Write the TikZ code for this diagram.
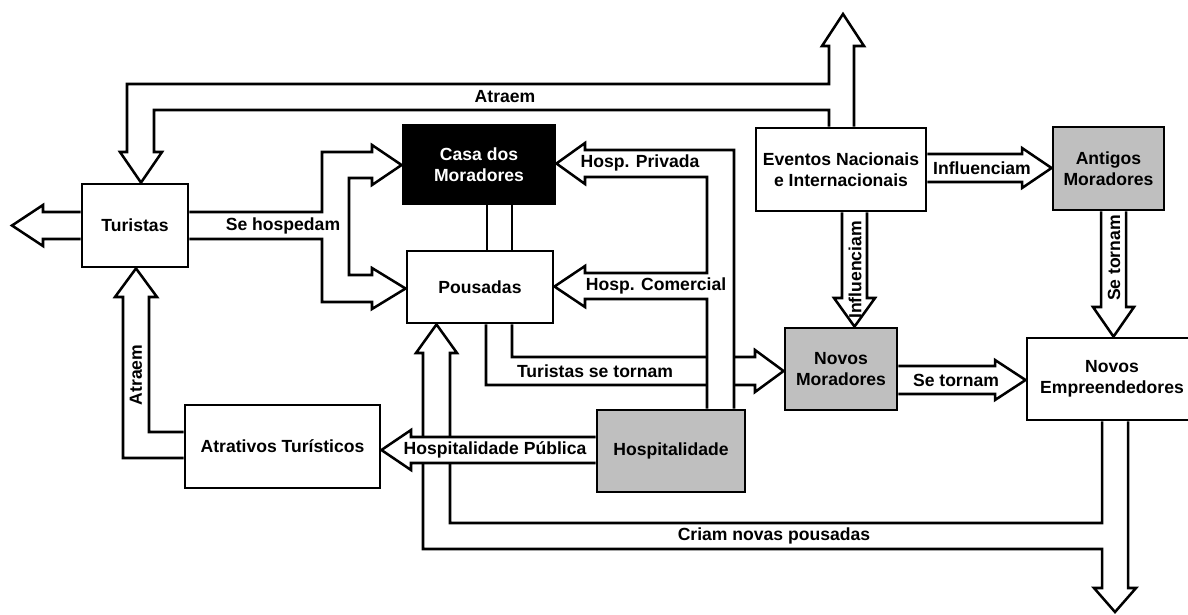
\documentclass[tikz,border=0pt]{standalone}
\usepackage{fontspec}
\setmainfont{Liberation Sans}
\usetikzlibrary{positioning,backgrounds}

\begin{document}
\begin{tikzpicture}[x=0.025cm, y=-0.025cm,
  every node/.style={font=\fontsize{12.5}{15}\selectfont\bfseries},
  box/.style={draw, line width=2pt, fill=white, align=center, inner sep=0pt},
  grey/.style={box, fill=black!25},
  blk/.style={draw, line width=1.8pt},
  lbl/.style={inner sep=0pt}]
   \useasboundingbox (0,0) rectangle (1188,614);

   \node[box] (tur) at (135,225.5) [minimum width=2.65cm, minimum height=2.075cm] {Turistas};
   \node[box, fill=black, text=white] (cas) at (479,164.5) [minimum width=3.8cm, minimum height=1.975cm] {Casa dos\\Moradores};
   \node[box] (pou) at (480,287) [minimum width=3.65cm, minimum height=1.8cm] {Pousadas};
   \node[box] (eve) at (841,169.5) [minimum width=4.25cm, minimum height=2.075cm] {Eventos Nacionais\\e Internacionais};
   \node[grey] (ant) at (1108.5,168.5) [minimum width=2.775cm, minimum height=2.075cm] {Antigos\\Moradores};
   \node[grey] (nmo) at (841,369) [minimum width=2.8cm, minimum height=2.05cm] {Novos\\Moradores};
   \node[box] (nem) at (1112,379) [minimum width=4.25cm, minimum height=2.05cm] {Novos\\Empreendedores};
   \node[box] (atr) at (282.5,446.5) [minimum width=4.875cm, minimum height=2.075cm] {Atrativos Turísticos};
   \node[grey] (hos) at (671,451) [minimum width=3.7cm, minimum height=2.05cm] {Hospitalidade};

   \coordinate (out0) at (12,225.5);
   \coordinate (out1) at (843,14);
   \coordinate (out2) at (1115,612);

  \begin{pgfonlayer}{background}
    \fill[white] (0,0) rectangle (1188,614);
    \draw[blk] (eve.north -| 829,0) -- (829,110) -- (154,110) -- (154,152) -- (162,152) -- (tur.north -| 141,0)
      -- (120,152) -- (127,152) -- (127,84) -- (829,84) -- (829,46) -- (822,46) -- (out1) -- (864,46)
      -- (854,46) -- (eve.north -| 854,0);
    \draw[blk] (tur.west |- 0,212) -- (43,212) -- (43,205) -- (out0) -- (43,246) -- (43,239) -- (tur.west |- 0,239);
    \draw[blk] (tur.east |- 0,212) -- (322,212) -- (322,152) -- (372,152) -- (372,145) -- (cas.west |- 0,165)
      -- (372,185) -- (372,178) -- (349,178) -- (349,275) -- (372,275) -- (372,268) -- (pou.west |- 0,288.5)
      -- (372,309) -- (372,302) -- (322,302) -- (322,239) -- (tur.east |- 0,239);
    \draw[blk] (cas.south -| 487,0) -- (pou.north -| 487,0) (cas.south -| 512,0) -- (pou.north -| 512,0);
    \draw[blk] (pou.south -| 512,0) -- (512,357) -- (755,357) -- (755,350) -- (nmo.west |- 0,371)
      -- (755,392) -- (755,385) -- (486,385) -- (pou.south -| 486,0);
    \draw[blk, fill=white] (hos.north -| 734,0) -- (734,150) -- (585,150) -- (585,143) -- (cas.east |- 0,163.5)
      -- (585,184) -- (585,177) -- (707,177) -- (707,273) -- (585,273) -- (585,266) -- (pou.east |- 0,286.5)
      -- (585,307) -- (585,299) -- (707,299) -- (hos.north -| 707,0);
    \draw[blk] (eve.east |- 0,154) -- (1022,154) -- (1022,148) -- (ant.west |- 0,168) -- (1022,188)
      -- (1022,182) -- (eve.east |- 0,182);
    \draw[blk] (eve.south -| 842,0) -- (842,298) -- (834,298) -- (nmo.north -| 854.5,0) -- (875,298)
      -- (867,298) -- (eve.south -| 867,0);
    \draw[blk] (ant.south -| 1101,0) -- (1101,307) -- (1093,307) -- (nem.north -| 1113.5,0) -- (1134,307)
      -- (1126,307) -- (ant.south -| 1126,0);
    \draw[blk] (nmo.east |- 0,366) -- (995,366) -- (995,360) -- (nem.west |- 0,380) -- (995,400)
      -- (995,394) -- (nmo.east |- 0,394);
    \draw[blk] (nem.south -| 1102,0) -- (1102,523) -- (450,523) -- (450,353) -- (457,353) -- (pou.south -| 436.5,0)
      -- (416,353) -- (423,353) -- (423,549) -- (1102,549) -- (1102,588) -- (1094,588) -- (out2)
      -- (1136,588) -- (1128,588) -- (nem.south -| 1128,0);
    \draw[blk, fill=white] (hos.west |- 0,437) -- (411,437) -- (411,430) -- (atr.east |- 0,450) -- (411,470)
      -- (411,463) -- (hos.west |- 0,463);
    \draw[blk] (atr.west |- 0,432) -- (149,432) -- (149,297) -- (157,297) -- (tur.south -| 136,0)
      -- (115,297) -- (123,297) -- (123,458) -- (atr.west |- 0,458);
  \end{pgfonlayer}

   \node[lbl] (l1) at (505,97) {Atraem};
   \node[lbl] (l2) at (283,226) {Se hospedam};
   \node[lbl] (l3) at (640,163) {Hosp. Privada};
   \node[lbl] (l4) at (656,286) {Hosp. Comercial};
   \node[lbl] (l5) at (595,371) {Turistas se tornam};
   \node[lbl] (l6) at (982,168) {Influenciam};
   \node[lbl, rotate=90] (l7) at (855,270) {Influenciam};
   \node[lbl, rotate=90] (l8) at (1114,258) {Se tornam};
   \node[lbl] (l9) at (956,380) {Se tornam};
   \node[lbl] (l10) at (495,450) {Hospitalidade Pública};
   \node[lbl, rotate=90] (l11) at (136,375) {Atraem};
   \node[lbl] (l12) at (774,536) {Criam novas pousadas};
\end{tikzpicture}
\end{document}
